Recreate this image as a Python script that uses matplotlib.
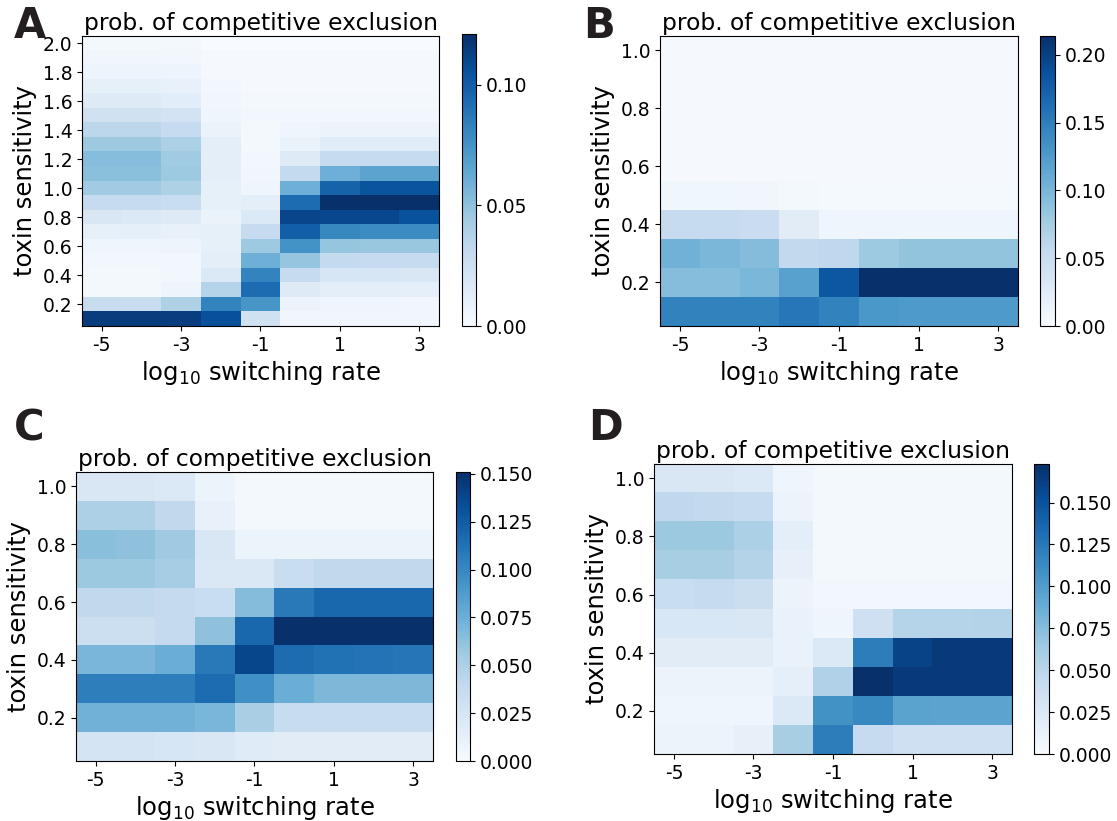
import numpy as np
import matplotlib
matplotlib.use('Agg')
from matplotlib import pyplot as plt

plt.rcParams['axes.unicode_minus'] = False

# log10 switching rate, one column per value
rates = [-5, -4, -3, -2, -1, 0, 1, 2, 3]

# panel A: toxin sensitivity 0.1 .. 2.0 (rows listed bottom -> top)
sens_a = [0.1, 0.2, 0.3, 0.4, 0.5, 0.6, 0.7, 0.8, 0.9, 1.0,
          1.1, 1.2, 1.3, 1.4, 1.5, 1.6, 1.7, 1.8, 1.9, 2.0]
prob_a = [
    [0.115, 0.115, 0.114, 0.106, 0.024, 0.004, 0.004, 0.004, 0.004],
    [0.029, 0.028, 0.039, 0.082, 0.073, 0.007, 0.005, 0.005, 0.004],
    [0.002, 0.002, 0.006, 0.036, 0.093, 0.015, 0.012, 0.012, 0.011],
    [0.002, 0.002, 0.003, 0.017, 0.082, 0.030, 0.019, 0.019, 0.018],
    [0.003, 0.003, 0.003, 0.012, 0.060, 0.048, 0.031, 0.030, 0.030],
    [0.005, 0.005, 0.006, 0.010, 0.045, 0.075, 0.048, 0.047, 0.047],
    [0.010, 0.011, 0.009, 0.010, 0.030, 0.099, 0.080, 0.078, 0.078],
    [0.018, 0.017, 0.015, 0.008, 0.017, 0.111, 0.110, 0.110, 0.105],
    [0.030, 0.030, 0.028, 0.010, 0.012, 0.093, 0.121, 0.121, 0.121],
    [0.044, 0.044, 0.039, 0.010, 0.005, 0.060, 0.097, 0.104, 0.104],
    [0.051, 0.051, 0.045, 0.012, 0.004, 0.031, 0.060, 0.066, 0.066],
    [0.052, 0.052, 0.044, 0.012, 0.003, 0.015, 0.030, 0.030, 0.030],
    [0.045, 0.045, 0.040, 0.012, 0.002, 0.008, 0.014, 0.014, 0.014],
    [0.034, 0.034, 0.030, 0.008, 0.002, 0.005, 0.007, 0.007, 0.007],
    [0.024, 0.024, 0.022, 0.005, 0.003, 0.003, 0.003, 0.003, 0.003],
    [0.015, 0.015, 0.013, 0.004, 0.002, 0.002, 0.002, 0.002, 0.002],
    [0.010, 0.010, 0.009, 0.003, 0.001, 0.001, 0.001, 0.001, 0.001],
    [0.006, 0.006, 0.006, 0.001, 0.001, 0.001, 0.001, 0.001, 0.001],
    [0.004, 0.004, 0.003, 0.001, 0.001, 0.001, 0.001, 0.001, 0.001],
    [0.002, 0.002, 0.002, 0.000, 0.000, 0.000, 0.000, 0.000, 0.000],
]

# panels B, C, D: toxin sensitivity 0.1 .. 1.0
sens_bcd = [0.1, 0.2, 0.3, 0.4, 0.5, 0.6, 0.7, 0.8, 0.9, 1.0]
prob_b = [
    [0.146, 0.146, 0.146, 0.155, 0.146, 0.128, 0.126, 0.126, 0.126],
    [0.092, 0.092, 0.098, 0.119, 0.182, 0.214, 0.214, 0.214, 0.214],
    [0.103, 0.098, 0.093, 0.056, 0.057, 0.080, 0.086, 0.086, 0.086],
    [0.053, 0.053, 0.049, 0.024, 0.010, 0.010, 0.010, 0.010, 0.010],
    [0.008, 0.008, 0.007, 0.005, 0.003, 0.003, 0.003, 0.003, 0.003],
    [0.002, 0.002, 0.002, 0.002, 0.002, 0.002, 0.002, 0.002, 0.002],
    [0.002, 0.002, 0.002, 0.002, 0.002, 0.002, 0.002, 0.002, 0.002],
    [0.002, 0.002, 0.002, 0.002, 0.002, 0.002, 0.002, 0.002, 0.002],
    [0.002, 0.002, 0.002, 0.002, 0.002, 0.002, 0.002, 0.002, 0.002],
    [0.002, 0.002, 0.002, 0.002, 0.002, 0.002, 0.002, 0.002, 0.002],
]
prob_c = [
    [0.026, 0.026, 0.024, 0.023, 0.018, 0.017, 0.017, 0.017, 0.017],
    [0.073, 0.073, 0.073, 0.070, 0.051, 0.036, 0.036, 0.036, 0.036],
    [0.105, 0.105, 0.105, 0.116, 0.095, 0.076, 0.069, 0.069, 0.069],
    [0.070, 0.070, 0.076, 0.108, 0.138, 0.116, 0.113, 0.112, 0.110],
    [0.033, 0.033, 0.038, 0.062, 0.119, 0.151, 0.150, 0.150, 0.151],
    [0.040, 0.040, 0.038, 0.035, 0.066, 0.108, 0.119, 0.119, 0.119],
    [0.057, 0.057, 0.053, 0.022, 0.022, 0.035, 0.040, 0.040, 0.040],
    [0.064, 0.062, 0.056, 0.023, 0.008, 0.008, 0.008, 0.008, 0.008],
    [0.049, 0.049, 0.040, 0.011, 0.003, 0.003, 0.003, 0.003, 0.003],
    [0.023, 0.023, 0.021, 0.008, 0.003, 0.003, 0.003, 0.003, 0.003],
]
prob_d = [
    [0.009, 0.009, 0.014, 0.059, 0.121, 0.043, 0.036, 0.036, 0.036],
    [0.008, 0.008, 0.007, 0.024, 0.108, 0.114, 0.095, 0.094, 0.094],
    [0.010, 0.010, 0.010, 0.016, 0.055, 0.173, 0.166, 0.166, 0.166],
    [0.019, 0.019, 0.019, 0.012, 0.024, 0.121, 0.160, 0.166, 0.166],
    [0.027, 0.027, 0.026, 0.012, 0.008, 0.036, 0.052, 0.052, 0.053],
    [0.040, 0.043, 0.038, 0.010, 0.005, 0.005, 0.005, 0.005, 0.005],
    [0.059, 0.059, 0.053, 0.014, 0.003, 0.003, 0.003, 0.003, 0.003],
    [0.065, 0.065, 0.057, 0.017, 0.003, 0.003, 0.003, 0.003, 0.003],
    [0.046, 0.045, 0.042, 0.010, 0.003, 0.003, 0.003, 0.003, 0.003],
    [0.026, 0.026, 0.024, 0.007, 0.003, 0.003, 0.003, 0.003, 0.003],
]

W, H = 1117.0, 821.0


def box(x0, y0, x1, y1):
    # pixel box (top-left origin) -> figure fraction
    return [x0 / W, 1 - y1 / H, (x1 - x0) / W, (y1 - y0) / H]


def panel(fig, ax_px, cb_px, sens, prob, yticks, cticks, cfmt):
    ax = fig.add_axes(box(*ax_px))
    cax = fig.add_axes(box(*cb_px))
    data = np.array(prob)
    dy = sens[1] - sens[0]
    im = ax.imshow(data, cmap='Blues', vmin=0, origin='lower', aspect='auto',
                   interpolation='nearest',
                   extent=[rates[0] - 0.5, rates[-1] + 0.5,
                           sens[0] - dy / 2, sens[-1] + dy / 2])
    ax.set_xticks([-5, -3, -1, 1, 3])
    ax.set_xticklabels(['-5', '-3', '-1', '1', '3'])
    ax.set_yticks(yticks)
    ax.set_yticklabels(['%.1f' % t for t in yticks])
    ax.tick_params(labelsize=13.5)
    ax.set_xlabel(r'log$_{10}$ switching rate', fontsize=17.5, labelpad=3)
    ax.set_ylabel('toxin sensitivity', fontsize=17.5, labelpad=4)
    ax.set_title('prob. of competitive exclusion', fontsize=16.8, pad=4)
    cb = fig.colorbar(im, cax=cax, ticks=cticks)
    cb.ax.set_yticklabels([cfmt % t for t in cticks])
    cb.ax.tick_params(labelsize=13.5)
    return ax


def main():
    fig = plt.figure(figsize=(11.17, 8.21), dpi=100)

    panel(fig, (82, 36, 439, 326), (462, 34, 476, 326), sens_a, prob_a,
          [0.2, 0.4, 0.6, 0.8, 1.0, 1.2, 1.4, 1.6, 1.8, 2.0],
          [0.0, 0.05, 0.10], '%.2f')
    panel(fig, (660, 36, 1018, 326), (1040, 36, 1055, 326), sens_bcd, prob_b,
          [0.2, 0.4, 0.6, 0.8, 1.0],
          [0.0, 0.05, 0.10, 0.15, 0.20], '%.2f')
    panel(fig, (76, 472, 433, 761), (456, 472, 470, 761), sens_bcd, prob_c,
          [0.2, 0.4, 0.6, 0.8, 1.0],
          [0.0, 0.025, 0.05, 0.075, 0.10, 0.125, 0.15], '%.3f')
    panel(fig, (654, 464, 1012, 754), (1034, 464, 1049, 754), sens_bcd, prob_d,
          [0.2, 0.4, 0.6, 0.8, 1.0],
          [0.0, 0.025, 0.05, 0.075, 0.10, 0.125, 0.15], '%.3f')

    for letter, x, y in [('A', 14, 38), ('B', 583, 38), ('C', 14, 440), ('D', 588, 440)]:
        fig.text(x / W, 1 - y / H, letter, fontsize=30, fontweight='heavy',
                 color='#231f20', ha='left', va='baseline')

    fig.savefig('out.png', dpi=100)


if __name__ == '__main__':
    main()
